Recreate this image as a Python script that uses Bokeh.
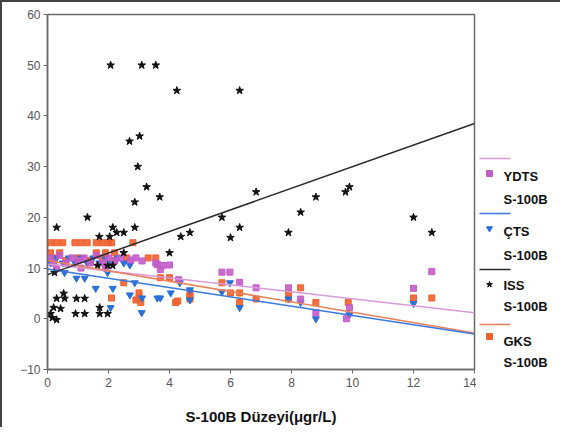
from bokeh.plotting import figure
from bokeh.layouts import row
from bokeh.models import Range1d, FixedTicker
from bokeh.embed import file_html
from bokeh.resources import INLINE
from bokeh.core.properties import value

# ---------------- data ----------------
iss_x = [2.07, 3.09, 3.55, 4.24, 6.3, 3.02, 2.69, 2.96, 3.25, 3.68, 2.86, 1.31, 0.3, 2.14, 2.86,
         2.27, 2.5, 1.7, 2.04, 4.67, 4.37, 4.0, 2.5, 0.23, 1.64, 1.97, 2.14, 0.3, 0.56, 0.95, 1.22,
         0.53, 0.2, 0.43, 0.92, 1.22, 1.71, 1.71, 1.97, 0.16, 0.3, 0.1, 6.84, 8.8, 5.72, 8.3, 6.3,
         6.0, 7.9, 9.9, 9.77, 12.0, 12.6]
iss_y = [50, 50, 50, 45, 45, 36, 35, 30, 26, 24, 23, 20, 18, 18, 18,
         17, 17, 16.2, 16.2, 17, 16.2, 13, 13, 9.1, 10.5, 10.5, 10.5, 4, 4, 4, 4,
         5, 2.2, 2, 1, 1, 2.2, 1, 1, 0.2, -0.2, 1, 25, 24, 20, 21, 18,
         16, 17, 26, 25, 20, 17]

ydts_x = [0.1, 0.2, 0.4, 0.6, 0.8, 1.0, 1.2, 1.4, 1.6, 1.8, 2.0, 2.2, 2.4, 2.73, 2.9, 3.1,
          3.55, 3.6, 3.7, 3.78, 4.0, 4.3, 5.72, 5.98, 6.3, 6.84, 7.9, 8.3, 8.8, 9.9, 9.8,
          12.0, 12.6, 0.3, 1.1, 1.9]
ydts_y = [12, 11, 12.5, 11, 12, 11.5, 12, 11, 12.5, 11, 12, 11.5, 12, 11.6, 12, 11.4,
          11, 10.7, 9.7, 10.5, 10.6, 7.7, 9.2, 9.2, 7.2, 6.1, 6.1, 3.9, 1.2, 2.2, 0,
          6, 9.3, 10, 10, 10]

cts_x = [0.1, 0.3, 0.5, 0.7, 0.9, 1.1, 1.3, 1.5, 1.7, 1.9, 2.1, 2.3, 2.5, 2.7, 0.56, 0.95,
         1.22, 1.58, 2.14, 2.07, 2.86, 3.1, 3.09, 3.6, 3.7, 4.04, 4.34, 4.67, 4.67, 1.97, 2.7,
         5.72, 5.98, 6.3, 7.9, 8.3, 8.8, 9.9, 12.0]
cts_y = [11, 12, 11, 12, 11, 12, 11, 12, 11, 11.8, 11, 12, 11, 10.6, 9.1, 8,
         8, 6, 6, 2.2, 7.1, 4.1, 1.2, 4.1, 4.1, 5.1, 7.1, 5.7, 3.7, 9.1, 4.7,
         5.3, 7.1, 2.2, 3.9, 3.2, 0, 0.8, 3.0]

gks_x = [0.1, 0.3, 0.5, 0.9, 1.1, 1.3, 1.6, 1.8, 2.0, 2.1, 2.8, 0.1, 0.4, 1.6, 1.9, 2.2,
         0.2, 0.6, 1.0, 1.4, 1.8, 2.2, 2.6, 3.3, 3.55, 2.1, 3.0, 3.0, 2.9, 3.06, 2.5, 3.7,
         4.0, 4.27, 4.2, 4.67, 4.67, 4.67, 5.72, 6.0, 6.3, 6.3, 6.84, 7.9, 7.9, 8.3, 8.8,
         9.86, 12.0, 12.6]
gks_y = [15, 15, 15, 15, 15, 15, 15, 15, 15, 15, 15, 13, 13, 13, 13, 13,
         12, 11.5, 12, 11.5, 12, 11.5, 12, 12, 12, 4.1, 5.1, 4.1, 3.7, 3.2, 7.1, 8.1,
         8.1, 3.5, 3.2, 4.5, 5.1, 3.9, 7.1, 5.1, 5.1, 3.2, 3.9, 5.1, 3.9, 6.1, 3.2,
         3.2, 4.1, 4.1]

# regression lines: value at x = 0 and at x = 14
fit_x = [0, 14]
ydts_fit = [10.8, 1.2]
cts_fit = [9.8, -3.0]
iss_fit = [8.7, 38.5]
gks_fit = [11.5, -2.8]

x_ticks = [0, 2, 4, 6, 8, 10, 12, 14]
y_ticks = [-10, 0, 10, 20, 30, 40, 50, 60]
x_label = "S-100B Düzeyi(μgr/L)"

legend_names = ["YDTS", "ÇTS", "ISS", "GKS"]
legend_sub = "S-100B"

# ---------------- styles ----------------
C_YDTS, C_YDTS_L = "#c45cc8", "#d99ad9"
C_CTS, C_CTS_L = "#2b6fd8", "#3a78e0"
C_ISS, C_ISS_L = "#111111", "#2a2a2a"
C_GKS, C_GKS_L = "#f0602e", "#e8825a"
FONT = "Liberation Sans"

p = figure(frame_width=427, frame_height=355, output_backend="svg", toolbar_location=None,
           x_range=Range1d(0, 14), y_range=Range1d(-10, 60),
           min_border_left=45, min_border_right=2, min_border_top=12, min_border_bottom=56)
p.grid.visible = False
p.outline_line_color = "#6a6a6a"
p.outline_line_width = 1.5
p.background_fill_color = "white"
p.border_fill_color = "white"

for ax, ticks in ((p.xaxis, x_ticks), (p.yaxis, y_ticks)):
    ax.ticker = FixedTicker(ticks=ticks)
    ax.minor_tick_line_color = None
    ax.axis_line_color = "#6a6a6a"
    ax.axis_line_width = 1.5
    ax.major_tick_line_color = "#6a6a6a"
    ax.major_tick_in = 0
    ax.major_tick_out = 4
    ax.major_label_text_font = FONT
    ax.major_label_text_font_size = "12px"
    ax.major_label_text_color = "#555555"
p.xaxis.major_label_standoff = 4
p.yaxis.major_label_standoff = 3
p.xaxis.axis_label = x_label
p.xaxis.axis_label_text_font = FONT
p.xaxis.axis_label_text_font_style = "bold"
p.xaxis.axis_label_text_font_size = "15px"
p.xaxis.axis_label_text_color = "#111111"
p.xaxis.axis_label_standoff = 18

p.scatter(gks_x, gks_y, marker="square", size=6, fill_color=C_GKS, line_color=C_GKS, fill_alpha=0.9)
p.scatter(cts_x, cts_y, marker="inverted_triangle", size=7, fill_color=C_CTS, line_color=C_CTS)
p.scatter(ydts_x, ydts_y, marker="square", size=6, fill_color=C_YDTS, line_color=C_YDTS, fill_alpha=0.9)
p.scatter(iss_x, iss_y, marker="star", size=8, fill_color=C_ISS, line_color=C_ISS)

p.line(fit_x, ydts_fit, line_color=C_YDTS_L, line_width=1.5)
p.line(fit_x, gks_fit, line_color=C_GKS_L, line_width=1.5)
p.line(fit_x, cts_fit, line_color=C_CTS_L, line_width=1.5)
p.line(fit_x, iss_fit, line_color=C_ISS_L, line_width=1.5)

# ---------------- legend panel ----------------
# frame of this panel is aligned with the main frame (local y 12..367)
lg = figure(width=84, frame_height=355, output_backend="svg", toolbar_location=None,
            x_range=Range1d(0, 84), y_range=Range1d(367, 12),
            min_border_left=0, min_border_right=0, min_border_top=12, min_border_bottom=56)
lg.axis.visible = False
lg.grid.visible = False
lg.outline_line_color = None
lg.border_fill_color = "white"

line_cols = [C_YDTS_L, C_CTS_L, C_ISS_L, C_GKS_L]
mark_cols = [C_YDTS, C_CTS, C_ISS, C_GKS]
markers = ["square", "inverted_triangle", "star", "square"]
line_y = [156, 211, 267, 322]
mark_y = [171, 226, 282, 334]
name_y = [174, 229, 283, 339]
sub_y = [197, 253, 304, 360]
for i in range(4):
    lg.line([3, 34], [line_y[i], line_y[i]], line_color=line_cols[i], line_width=1.5)
    lg.scatter([13], [mark_y[i]], marker=markers[i], size=6, fill_color=mark_cols[i], line_color=mark_cols[i])
    lg.text([27], [name_y[i]], text=[legend_names[i]], text_font=value(FONT), text_font_style="bold",
            text_font_size="13px", text_baseline="middle", text_color="#111111")
    lg.text([27], [sub_y[i]], text=[legend_sub], text_font=value(FONT), text_font_style="bold",
            text_font_size="13px", text_baseline="middle", text_color="#111111")

layout = row(p, lg, styles={"border-left": "2px solid #444444", "border-top": "2px solid #444444",
                            "background-color": "white"})

open("out.html", "w").write(file_html(layout, INLINE))
